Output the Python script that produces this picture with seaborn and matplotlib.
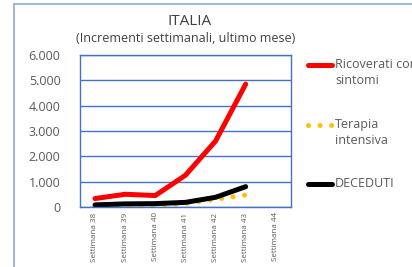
import matplotlib
matplotlib.use("Agg")
import matplotlib.pyplot as plt
import seaborn as sns
import pandas as pd
from matplotlib.lines import Line2D

# Data
weeks = [38, 39, 40, 41, 42, 43, 44]
week_labels = ["Settimana " + str(w) for w in weeks]
ricoverati = [330, 500, 450, 1250, 2600, 4850]
terapia = [20, 30, 50, 130, 300, 470]
deceduti = [80, 120, 130, 180, 380, 800]
series_names = ["Ricoverati con\nsintomi", "Terapia\nintensiva", "DECEDUTI"]

sns.set_style("white")
plt.rcParams["font.family"] = ["Open Sans", "DejaVu Sans"]

grey = "#595959"
blue = "#4472C4"
colors = ["#FF0000", "#FFC000", "black"]
styles = ["-", (0, (0.01, 2.3)), "-"]

fig = plt.figure(figsize=(4.12, 2.67), dpi=100)
ax = fig.add_axes([0.194, 0.225, 0.512, 0.569])

x = list(range(len(ricoverati)))
for vals, c, ls in zip([ricoverati, terapia, deceduti], colors, styles):
    sns.lineplot(x=x, y=vals, ax=ax, color=c, linewidth=3.6, linestyle=ls,
                 solid_capstyle="round", dash_capstyle="round")

ax.set_xlim(-0.5, len(weeks) - 0.5)
ax.set_ylim(0, 6000)
ax.set_yticks(range(0, 6001, 1000))
ax.set_yticklabels(["0" if v == 0 else f"{v:,}".replace(",", ".") for v in range(0, 6001, 1000)],
                   fontsize=9, color=grey)
ax.set_xticks(range(len(weeks)))
ax.set_xticklabels(week_labels, rotation=90, fontsize=5.8, color=grey)
ax.tick_params(axis="both", length=0, pad=4)
ax.tick_params(axis="y", pad=14)
ax.grid(axis="y", color=blue, linewidth=1)
ax.set_axisbelow(True)
for s in ax.spines.values():
    s.set_color(blue)
    s.set_linewidth(1)

fig.text(0.46, 0.92, "ITALIA", ha="center", va="center", fontsize=11, color="#404040")
fig.text(0.45, 0.857, "(Incrementi settimanali, ultimo mese)", ha="center", va="center",
         fontsize=9, color="#404040")

# legend drawn by hand: handle sits on the first text line, as in Excel
leg_y = [0.757, 0.532, 0.311]
for name, c, ls, y in zip(series_names, colors, styles, leg_y):
    fig.add_artist(Line2D([0.747, 0.806], [y, y], color=c, linewidth=3.6, linestyle=ls,
                          solid_capstyle="round", dash_capstyle="round"))
    for i, line in enumerate(name.split("\n")):
        fig.text(0.813, y - i * 0.06, line, ha="left", va="center", fontsize=9, color=grey)

# outer chart border
fig.add_artist(Line2D([0.033, 0.033], [0, 0.985], color="#8EA9DB", linewidth=1.2))
fig.add_artist(Line2D([0.033, 1.0], [0.985, 0.985], color="#8EA9DB", linewidth=1.2))

fig.savefig("out.png", dpi=100)
